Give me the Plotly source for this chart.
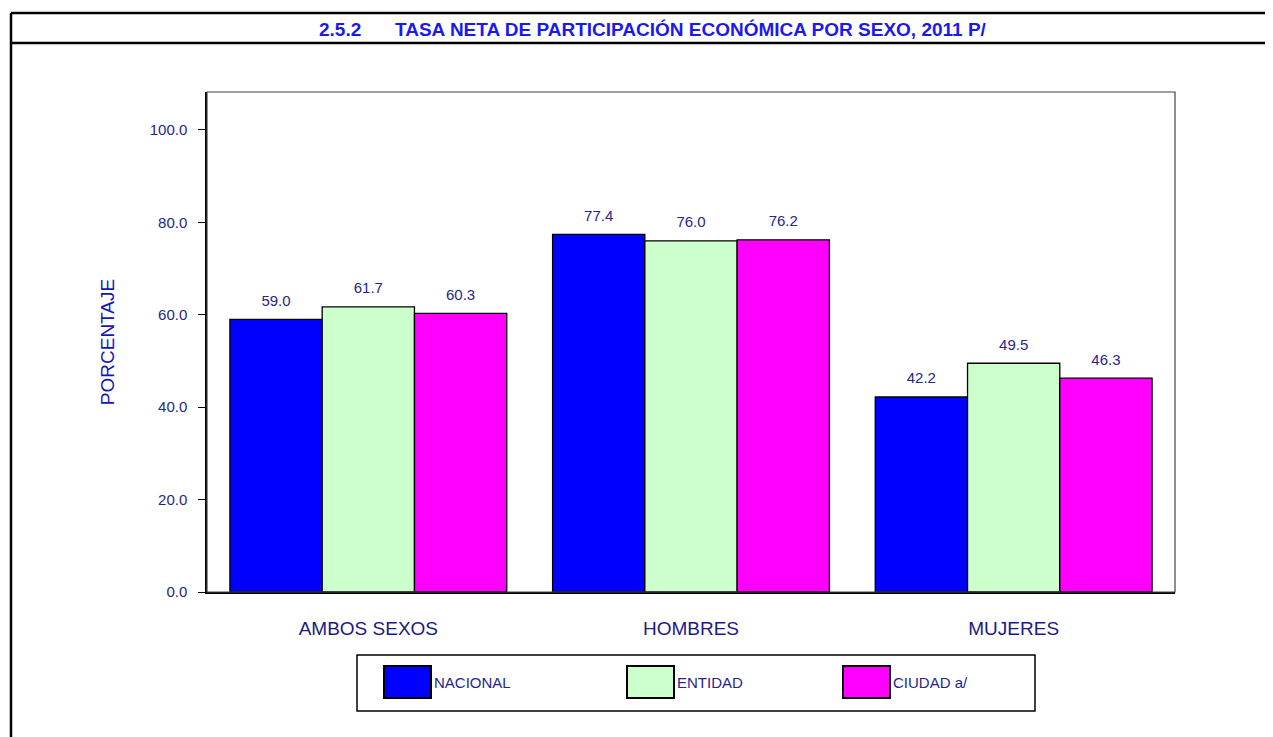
import plotly.graph_objects as go

# ---- data ----
categories = ["AMBOS SEXOS", "HOMBRES", "MUJERES"]
series_names = ["NACIONAL", "ENTIDAD", "CIUDAD a/"]
nacional = [59.0, 77.4, 42.2]
entidad = [61.7, 76.0, 49.5]
ciudad = [60.3, 76.2, 46.3]
y_ticks = [0, 20, 40, 60, 80, 100]

series_values = [nacional, entidad, ciudad]
colors = ["#0000FF", "#CCFFCC", "#FF00FF"]

OFF = 8  # page body margin
W, H = 1273 - OFF, 737 - OFF
L, R, T, B = 207, 1175, 92, 592  # plot area in page pixels

def px(x):
    return (x - L) / (R - L)

def py(y):
    return (B - y) / (B - T)

NARROW = "Liberation Sans, Arial, sans-serif"
NAVY = "#26268c"

fig = go.Figure()
for name, vals, col in zip(series_names, series_values, colors):
    fig.add_trace(go.Bar(
        x=categories, y=vals, name=name,
        marker=dict(color=col, line=dict(color="#000000", width=1.3)),
        hoverinfo="skip", showlegend=False,
    ))
# value labels, grouped like the bars
for name, vals in zip(series_names, series_values):
    fig.add_trace(go.Scatter(
        x=categories, y=vals, mode="markers+text",
        text=[f"{v:.1f}" for v in vals], textposition="top center",
        textfont=dict(family=NARROW, size=15, color=NAVY),
        marker=dict(size=14, opacity=0),
        hoverinfo="skip", showlegend=False, cliponaxis=False,
    ))

shapes = []
annotations = []
# outer frame
shapes.append(dict(type="line", xref="paper", yref="paper", x0=px(11), x1=px(1290), y0=py(13), y1=py(13),
                   line=dict(color="black", width=2.5)))
shapes.append(dict(type="line", xref="paper", yref="paper", x0=px(11), x1=px(1290), y0=py(43), y1=py(43),
                   line=dict(color="black", width=2.5)))
shapes.append(dict(type="line", xref="paper", yref="paper", x0=px(11), x1=px(11), y0=py(13), y1=py(760),
                   line=dict(color="black", width=2.5)))
# plot frame
shapes.append(dict(type="rect", xref="paper", yref="paper", x0=0, x1=1, y0=0, y1=1,
                   line=dict(color="#444444", width=1.2), layer="above"))
# legend box
shapes.append(dict(type="rect", xref="paper", yref="paper", x0=px(357), x1=px(1035), y0=py(711), y1=py(655),
                   line=dict(color="black", width=1.5)))
legend_x = [384, 627, 843]
for lx, name, col in zip(legend_x, series_names, colors):
    shapes.append(dict(type="rect", xref="paper", yref="paper", x0=px(lx), x1=px(lx + 47),
                       y0=py(698), y1=py(666), fillcolor=col, line=dict(color="black", width=2)))
    annotations.append(dict(xref="paper", yref="paper", x=px(lx + 48), y=py(682), text=name,
                            showarrow=False, xanchor="left", yanchor="middle",
                            font=dict(family=NARROW, size=15, color=NAVY)))

# title
TFONT = dict(family="Liberation Sans, Arial, sans-serif", size=19, color="#1a1aee")
annotations.append(dict(xref="paper", yref="paper", x=px(317), y=py(29), text="<b>2.5.2</b>",
                        showarrow=False, xanchor="left", yanchor="middle", font=TFONT))
annotations.append(dict(xref="paper", yref="paper", x=px(393), y=py(29),
                        text="<b>TASA NETA DE PARTICIPACIÓN ECONÓMICA POR SEXO, 2011 P/</b>",
                        showarrow=False, xanchor="left", yanchor="middle", font=TFONT))

fig.update_layout(
    width=W, height=H, autosize=False,
    margin=dict(l=L - OFF, r=W + OFF - R, t=T - OFF, b=H + OFF - B),
    paper_bgcolor="white", plot_bgcolor="white",
    barmode="group", bargap=0.142, bargroupgap=0,
    scattermode="group", scattergap=0.142,
    shapes=shapes, annotations=annotations,
    showlegend=False,
)
fig.update_yaxes(
    range=[0, 108.2], tickvals=y_ticks, tickformat=".1f",
    showgrid=False, zeroline=False,
    showline=True, linecolor="black", linewidth=1.5,
    ticks="outside", ticklen=7, tickcolor="black", tickwidth=1,
    ticklabelstandoff=8,
    tickfont=dict(family=NARROW, size=15, color=NAVY),
    title=dict(text="PORCENTAJE", standoff=30,
               font=dict(family="Liberation Sans, Arial, sans-serif", size=19, color="#1414b4")),
)
fig.update_xaxes(
    showgrid=False, zeroline=False,
    showline=True, linecolor="black", linewidth=1.5,
    ticks="outside", ticklen=18, tickcolor="rgba(0,0,0,0)",
    tickfont=dict(family="Liberation Sans, Arial, sans-serif", size=19, color="#1a1a8a"),
)

fig.write_html("out.html")
